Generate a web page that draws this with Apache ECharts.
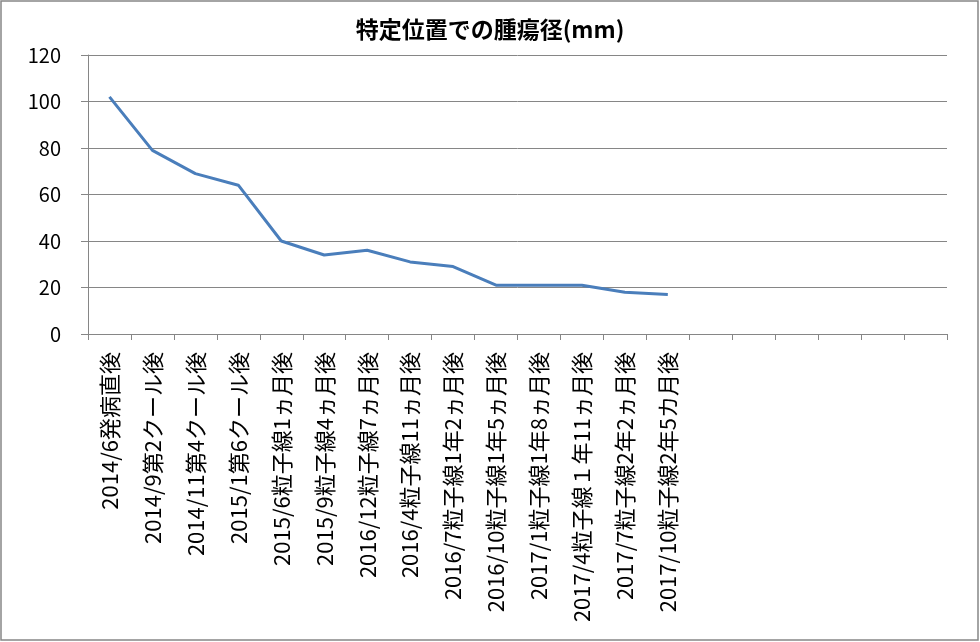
<!DOCTYPE html>
<html>
<head>
<meta charset="utf-8">
<script src="https://cdn.jsdelivr.net/npm/echarts@6/dist/echarts.min.js"></script>
<style>
html,body{margin:0;padding:0;background:#fff;}
#chart{width:980px;height:642px;}
</style>
</head>
<body>
<div id="chart"></div>
<script>
const titleText = '特定位置での腫瘍径(mm)';
const categories = [
  '2014/6発病直後',
  '2014/9第2クール後',
  '2014/11第4クール後',
  '2015/1第6クール後',
  '2015/6粒子線1ヵ月後',
  '2015/9粒子線4ヵ月後',
  '2016/12粒子線7ヵ月後',
  '2016/4粒子線11ヵ月後',
  '2016/7粒子線1年2ヵ月後',
  '2016/10粒子線1年5ヵ月後',
  '2017/1粒子線1年8ヵ月後',
  '2017/4粒子線１年11ヵ月後',
  '2017/7粒子線2年2ヵ月後',
  '2017/10粒子線2年5カ月後',
  '', '', '', '', '', ''
];
const values = [102, 79, 69, 64, 40, 34, 36, 31, 29, 21, 21, 21, 18, 17];
const yTicks = { min: 0, max: 120, interval: 20 };

const chart = echarts.init(document.getElementById('chart'));
chart.setOption({
  backgroundColor: '#fff',
  animation: false,
  title: {
    text: titleText,
    left: 'center',
    top: 13,
    textStyle: { fontFamily: 'Noto Sans CJK JP', fontSize: 23, fontWeight: 'bold', color: '#000' }
  },
  graphic: [{
    type: 'rect',
    shape: { x: 1, y: 1, width: 977, height: 639 },
    style: { fill: 'none', stroke: '#868686', lineWidth: 1.5 },
    silent: true
  }],
  grid: { left: 88, right: 33, top: 55, bottom: 308, containLabel: false },
  xAxis: {
    type: 'category',
    data: categories,
    boundaryGap: true,
    axisLine: { show: true, lineStyle: { color: '#868686', width: 1 } },
    axisTick: { show: true, interval: 0, length: 6, lineStyle: { color: '#868686' } },
    axisLabel: {
      interval: 0, rotate: 90, margin: 18,
      fontFamily: 'Noto Sans CJK JP', fontSize: 22, color: '#000'
    },
    splitLine: { show: false }
  },
  yAxis: {
    type: 'value',
    min: yTicks.min, max: yTicks.max, interval: yTicks.interval,
    axisLine: { show: true, lineStyle: { color: '#868686', width: 1 } },
    axisTick: { show: true, length: 7, lineStyle: { color: '#868686' } },
    axisLabel: { margin: 27, fontFamily: 'Noto Sans CJK JP', fontSize: 20, color: '#000' },
    splitLine: { show: true, lineStyle: { color: '#868686', width: 1 } }
  },
  series: [{
    type: 'line',
    data: values,
    symbol: 'none',
    lineStyle: { color: '#4a7ebb', width: 3 },
    itemStyle: { color: '#4a7ebb' }
  }]
});
</script>
</body>
</html>
